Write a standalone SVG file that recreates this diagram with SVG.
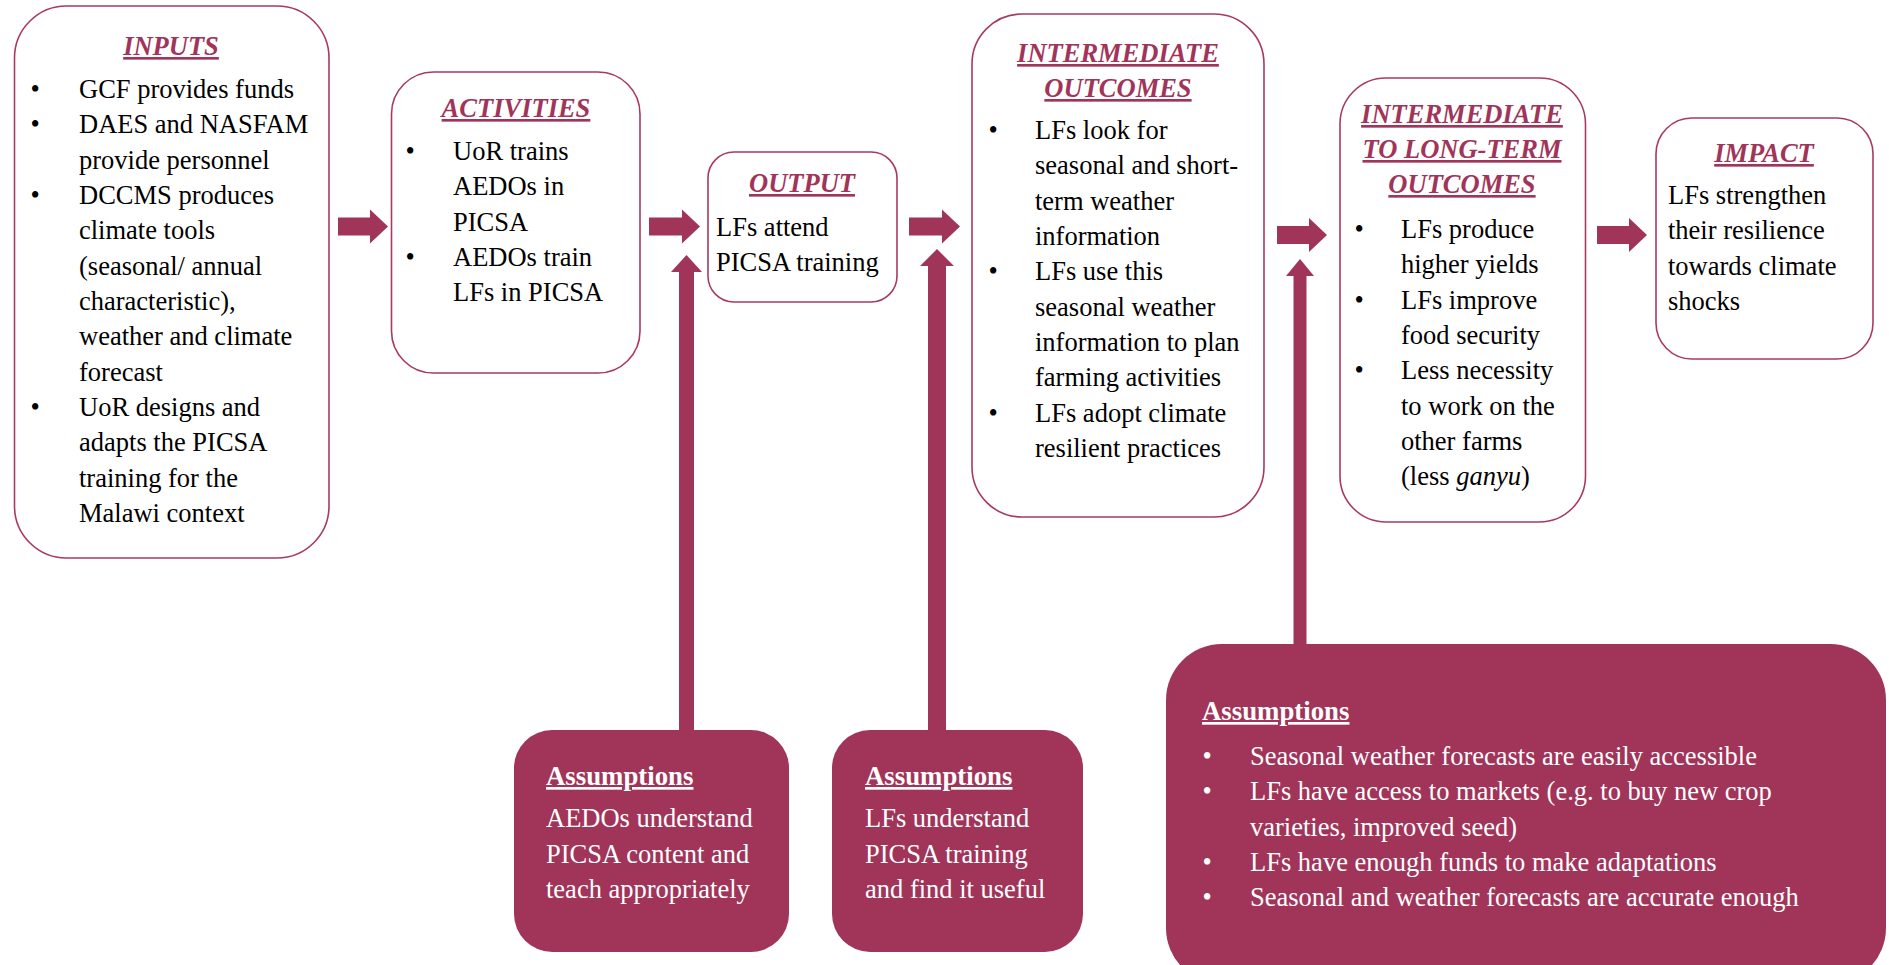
<svg xmlns="http://www.w3.org/2000/svg" width="1889" height="965" viewBox="0 0 1889 965">
<style>
.box{fill:#ffffff;stroke:#A83A61;stroke-width:1.6}
.abox{fill:#A13459;stroke:none}
.arr{fill:#A13459;stroke:none}
text{font-family:"Liberation Serif","Times New Roman",serif;font-size:26.5px;fill:#000}
.t{font-weight:bold;font-style:italic;fill:#A13459;text-decoration:underline;text-anchor:middle}
.ah{font-weight:bold;fill:#fff;text-decoration:underline;font-size:26.8px}
.w{fill:#fff}
</style>
<rect width="1889" height="965" fill="#fff"/>
<g id="connectors">
<path class="arr" d="M338,217.5 H370 V209.5 L388,226.5 L370,243.5 V235.5 H338 Z"/>
<path class="arr" d="M649,217.5 H682 V209.5 L700,226.5 L682,243.5 V235.5 H649 Z"/>
<path class="arr" d="M909,217.5 H942 V209.5 L960,226.5 L942,243.5 V235.5 H909 Z"/>
<path class="arr" d="M1277,226 H1309 V218 L1327,235 L1309,252 V244 H1277 Z"/>
<path class="arr" d="M1597,226 H1629 V218 L1647,235 L1629,252 V244 H1597 Z"/>
<path class="arr" d="M679,732 V272 H671 L686.5,255 L702,272 H694 V732 Z"/>
<path class="arr" d="M928,732 V266 H920 L937,249 L954,266 H946 V732 Z"/>
<path class="arr" d="M1293.5,647 V276 H1286 L1300,259 L1314,276 H1306.5 V647 Z"/>
</g>
<g id="inputs">
<rect class="box" x="14.5" y="6" width="314.5" height="552" rx="52"/>
<text class="t" x="171" y="55">INPUTS</text>
<text x="30.5" y="98">•</text><text x="79" y="98">GCF provides funds</text>
<text x="30.5" y="133.3">•</text><text x="79" y="133.3">DAES and NASFAM</text>
<text x="79" y="168.7">provide personnel</text>
<text x="30.5" y="204">•</text><text x="79" y="204">DCCMS produces</text>
<text x="79" y="239.3">climate tools</text>
<text x="79" y="274.7">(seasonal/ annual</text>
<text x="79" y="310">characteristic),</text>
<text x="79" y="345.3">weather and climate</text>
<text x="79" y="380.7">forecast</text>
<text x="30.5" y="416">•</text><text x="79" y="416">UoR designs and</text>
<text x="79" y="451.3">adapts the PICSA</text>
<text x="79" y="486.7">training for the</text>
<text x="79" y="522">Malawi context</text>
</g>
<g id="activities">
<rect class="box" x="391.5" y="72" width="248.5" height="301" rx="42"/>
<text class="t" x="516" y="117">ACTIVITIES</text>
<text x="405.5" y="160">•</text><text x="453" y="160">UoR trains</text>
<text x="453" y="195.3">AEDOs in</text>
<text x="453" y="230.7">PICSA</text>
<text x="405.5" y="266">•</text><text x="453" y="266">AEDOs train</text>
<text x="453" y="301.3">LFs in PICSA</text>
</g>
<g id="output">
<rect class="box" x="708" y="152" width="189" height="150" rx="26"/>
<text class="t" x="802" y="192">OUTPUT</text>
<text x="716" y="236">LFs attend</text>
<text x="716" y="271.3">PICSA training</text>
</g>
<g id="intermediate">
<rect class="box" x="972" y="14" width="292" height="503" rx="50"/>
<text class="t" x="1118" y="62">INTERMEDIATE</text>
<text class="t" x="1118" y="97">OUTCOMES</text>
<text x="988.5" y="139">•</text><text x="1035" y="139">LFs look for</text>
<text x="1035" y="174.3">seasonal and short-</text>
<text x="1035" y="209.7">term weather</text>
<text x="1035" y="245">information</text>
<text x="988.5" y="280.3">•</text><text x="1035" y="280.3">LFs use this</text>
<text x="1035" y="315.7">seasonal weather</text>
<text x="1035" y="351">information to plan</text>
<text x="1035" y="386.3">farming activities</text>
<text x="988.5" y="421.7">•</text><text x="1035" y="421.7">LFs adopt climate</text>
<text x="1035" y="457">resilient practices</text>
</g>
<g id="longterm">
<rect class="box" x="1340" y="78" width="245.5" height="444" rx="46"/>
<text class="t" x="1462" y="123">INTERMEDIATE</text>
<text class="t" x="1462" y="158">TO LONG-TERM</text>
<text class="t" x="1462" y="193">OUTCOMES</text>
<text x="1354.5" y="238">•</text><text x="1401" y="238">LFs produce</text>
<text x="1401" y="273.3">higher yields</text>
<text x="1354.5" y="308.7">•</text><text x="1401" y="308.7">LFs improve</text>
<text x="1401" y="344">food security</text>
<text x="1354.5" y="379.3">•</text><text x="1401" y="379.3">Less necessity</text>
<text x="1401" y="414.7">to work on the</text>
<text x="1401" y="450">other farms</text>
<text x="1401" y="485.3">(less <tspan font-style="italic">ganyu</tspan>)</text>
</g>
<g id="impact">
<rect class="box" x="1656" y="118" width="217" height="241" rx="36"/>
<text class="t" x="1764" y="162">IMPACT</text>
<text x="1668" y="204">LFs strengthen</text>
<text x="1668" y="239.3">their resilience</text>
<text x="1668" y="274.7">towards climate</text>
<text x="1668" y="310">shocks</text>
</g>
<g id="assumptions1">
<rect class="abox" x="514" y="730" width="275" height="222" rx="38"/>
<text class="ah" x="546" y="785">Assumptions</text>
<text class="w" x="546" y="827">AEDOs understand</text>
<text class="w" x="546" y="862.5">PICSA content and</text>
<text class="w" x="546" y="898">teach appropriately</text>
</g>
<g id="assumptions2">
<rect class="abox" x="832" y="730" width="251" height="222" rx="38"/>
<text class="ah" x="865" y="785">Assumptions</text>
<text class="w" x="865" y="827">LFs understand</text>
<text class="w" x="865" y="862.5">PICSA training</text>
<text class="w" x="865" y="898">and find it useful</text>
</g>
<g id="assumptions3">
<rect class="abox" x="1166" y="644" width="720" height="340" rx="56"/>
<text class="ah" x="1202" y="720">Assumptions</text>
<text class="w" x="1202.5" y="765">•</text><text class="w" x="1250" y="765">Seasonal weather forecasts are easily accessible</text>
<text class="w" x="1202.5" y="800">•</text><text class="w" x="1250" y="800">LFs have access to markets (e.g. to buy new crop</text>
<text class="w" x="1250" y="835.5">varieties, improved seed)</text>
<text class="w" x="1202.5" y="870.5">•</text><text class="w" x="1250" y="870.5">LFs have enough funds to make adaptations</text>
<text class="w" x="1202.5" y="905.5">•</text><text class="w" x="1250" y="905.5">Seasonal and weather forecasts are accurate enough</text>
</g>
</svg>
